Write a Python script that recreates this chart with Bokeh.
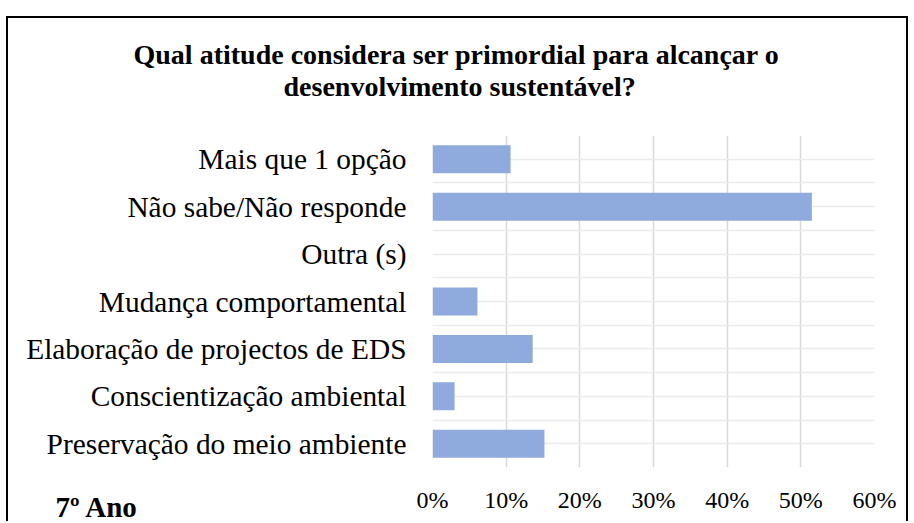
from bokeh.plotting import figure
from bokeh.models import FixedTicker, Range1d, Title
from bokeh.embed import file_html
from bokeh.resources import INLINE

categories = ["Preservação do meio ambiente", "Conscientização ambiental",
              "Elaboração de projectos de EDS", "Mudança comportamental",
              "Outra (s)", "Não sabe/Não responde", "Mais que 1 opção"]
values = [15.2, 3.0, 13.6, 6.1, 0.0, 51.5, 10.6]
x_ticks = [0, 10, 20, 30, 40, 50, 60]
x_tick_labels = ["0%", "10%", "20%", "30%", "40%", "50%", "60%"]
title_lines = ["Qual atitude considera ser primordial para alcançar o",
               "desenvolvimento sustentável?"]
corner_label = "7º Ano"

SERIF = "Liberation Serif"

W, H = 902, 505
p = figure(width=W, height=H, output_backend="svg", toolbar_location=None,
           x_range=Range1d(0, 60), y_range=Range1d(-0.5, len(categories) - 0.5),
           min_border_left=424, min_border_right=36, min_border_top=117,
           min_border_bottom=56)
p.margin = (16, 0, 0, 6)
p.styles = {"border-top": "2px solid black", "border-left": "2px solid black",
            "border-right": "2px solid black"}
p.outline_line_color = None
p.background_fill_color = "white"
p.border_fill_color = "white"

ys = list(range(len(categories)))
p.hbar(y=ys, right=values, left=0, height=0.59, fill_color="#8FAADC", line_color=None)

xax = p.xaxis[0]
yax = p.yaxis[0]
xax.ticker = FixedTicker(ticks=x_ticks)
xax.major_label_overrides = {t: l for t, l in zip(x_ticks, x_tick_labels)}
yax.ticker = FixedTicker(ticks=ys)
yax.major_label_overrides = {i: c for i, c in enumerate(categories)}
for ax in (xax, yax):
    ax.axis_line_color = None
    ax.major_tick_line_color = None
    ax.minor_tick_line_color = None
    ax.major_tick_out = 0
    ax.major_tick_in = 0
    ax.minor_tick_out = 0
    ax.major_label_text_color = "black"
    ax.major_label_text_font = SERIF
yax.major_label_text_font_size = "29.4px"
xax.major_label_text_font_size = "24px"
yax.major_label_standoff = 26
xax.major_label_standoff = 19

p.xgrid.ticker = FixedTicker(ticks=x_ticks)
p.xgrid.grid_line_color = "#d9d9d9"
p.xgrid.grid_line_width = 1.5
p.ygrid.ticker = FixedTicker(ticks=[k * 0.5 - 0.5 for k in range(2 * len(categories) + 1)])
p.ygrid.grid_line_color = "#ebebeb"
p.ygrid.grid_line_width = 1.5

# spacer between the plot area and the two title lines
p.add_layout(Title(text=" ", text_font_size="10px", standoff=22), "above")
p.add_layout(Title(text=title_lines[1], align="left", offset=-149, standoff=-2,
                   text_font=SERIF, text_font_style="bold",
                   text_font_size="28px", text_color="black"), "above")
p.add_layout(Title(text=title_lines[0], align="left", offset=-299, standoff=0,
                   text_font=SERIF, text_font_style="bold",
                   text_font_size="28px", text_color="black"), "above")

# corner note at the bottom left, drawn level with the tick labels
p.add_layout(Title(text=corner_label, align="left", offset=-377, standoff=-50,
                   vertical_align="top", text_font=SERIF, text_font_style="bold",
                   text_font_size="29px", text_color="black"), "below")

open("out.html", "w").write(file_html(p, INLINE))
